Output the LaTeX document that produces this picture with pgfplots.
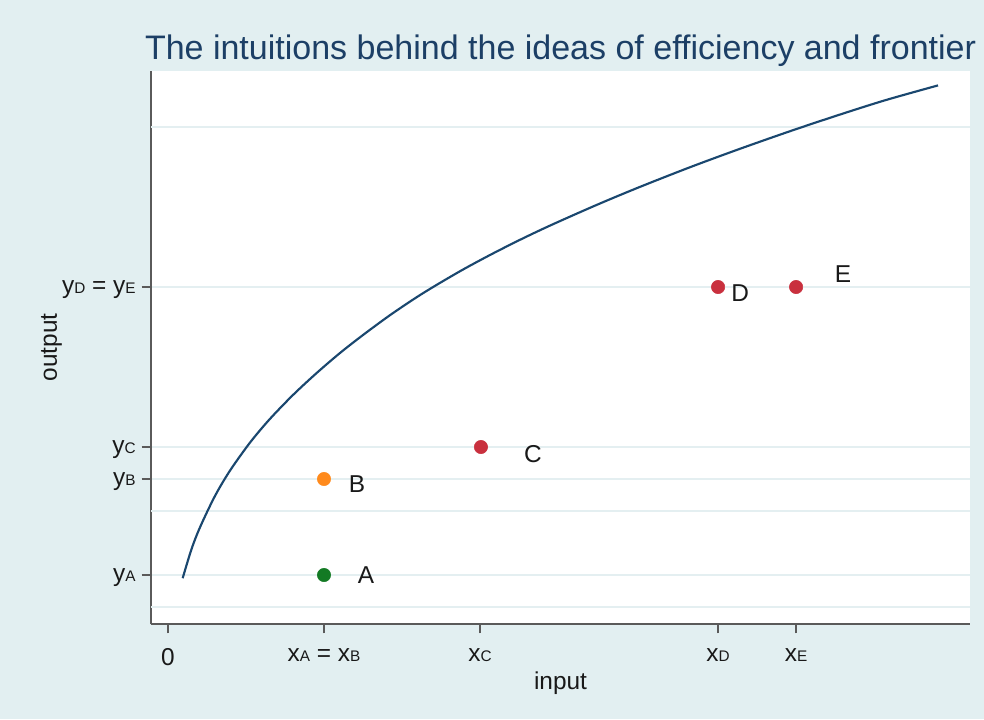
\documentclass[border=0pt]{standalone}
\usepackage{pgfplots}
\pgfplotsset{compat=1.18}
\usepackage{fontspec}
\setmainfont{Liberation Sans}
\definecolor{bg}{HTML}{E2EFF1}
\definecolor{stnavy}{HTML}{1A476F}
\definecolor{titlec}{HTML}{1C3F66}
\definecolor{axisgray}{HTML}{5A5A5A}
\definecolor{gridc}{HTML}{E4EFF1}
\definecolor{stgreen}{HTML}{137A24}
\definecolor{storange}{HTML}{FF8A1C}
\definecolor{stred}{HTML}{C9303E}
\newcommand{\lsub}[1]{{\fontsize{11.5pt}{12pt}\selectfont #1}}
\begin{document}
\begin{tikzpicture}[x=1pt,y=1pt]
\fill[bg] (0,0) rectangle (738,539.25);
\begin{axis}[
  at={(113.25pt,71.25pt)}, anchor=south west,
  scale only axis, width=614.25pt, height=414.75pt,
  xmin=-0.109, xmax=5.141, ymin=-0.531, ymax=16.75,
  axis x line*=bottom, axis y line*=left,
  axis line style={draw=axisgray, line width=1.1pt, -},
  axis background/.style={fill=white},
  xtick={0,1,2,3.526,4.026},
  xticklabels={0, x\lsub{A}\ =\ x\lsub{B}, x\lsub{C}, x\lsub{D}, x\lsub{E}},
  ytick={1,4,5,10},
  yticklabels={y\lsub{A}, y\lsub{B}, y\lsub{C}, y\lsub{D}\ =\ y\lsub{E}},
  tick align=outside, major tick length=7pt,
  major tick style={draw=axisgray, line width=1.2pt},
  ymajorgrids, xmajorgrids=false,
  grid style={draw=gridc, line width=1.1pt},
  extra y ticks={0,3,15}, extra y tick labels={},
  extra y tick style={major tick length=0pt, ymajorgrids},
  ticklabel style={font=\fontsize{18.3pt}{21pt}\selectfont, text=black!90},
  x tick label style={yshift=-8pt},
  y tick label style={xshift=-1pt, yshift=-2pt},
  xlabel={input}, ylabel={output},
  label style={font=\fontsize{18.3pt}{21pt}\selectfont, text=black!90},
  xlabel style={at={(axis description cs:0.5,-0.118)}, anchor=base},
  ylabel style={at={(axis description cs:-0.1215,0.5)}, anchor=center},
  clip=false,
]
\addplot[smooth, stnavy, line width=1.6pt] coordinates {
(0.094,0.90) (0.15,1.80) (0.205,2.49) (0.30,3.46) (0.397,4.26)
(0.526,5.14) (0.65,5.86) (0.80,6.62) (0.95,7.30) (1.103,7.94)
(1.25,8.50) (1.423,9.12) (1.60,9.70) (1.744,10.13) (1.90,10.57)
(2.064,11.00) (2.25,11.46) (2.449,11.92) (2.75,12.57) (3.026,13.13)
(3.35,13.75) (3.667,14.32) (4.00,14.89) (4.308,15.39) (4.60,15.84) (4.936,16.30)};
\addplot[only marks, mark=*, mark size=5pt, color=stgreen, mark options={draw=stgreen, fill=stgreen}] coordinates {(1,1)};
\addplot[only marks, mark=*, mark size=5pt, color=storange, mark options={draw=storange, fill=storange}] coordinates {(1,4)};
\addplot[only marks, mark=*, mark size=5pt, color=stred, mark options={draw=stred, fill=stred}] coordinates {(2.006,5) (3.526,10) (4.026,10)};
\node[font=\fontsize{18.3pt}{21pt}\selectfont, text=black!90] at (axis cs:1.269,1.0) {A};
\node[font=\fontsize{18.3pt}{21pt}\selectfont, text=black!90] at (axis cs:1.212,3.84) {B};
\node[font=\fontsize{18.3pt}{21pt}\selectfont, text=black!90] at (axis cs:2.340,4.78) {C};
\node[font=\fontsize{18.3pt}{21pt}\selectfont, text=black!90] at (axis cs:3.667,9.81) {D};
\node[font=\fontsize{18.3pt}{21pt}\selectfont, text=black!90] at (axis cs:4.327,10.41) {E};
\end{axis}
\node[anchor=base, text=titlec, font=\fontsize{25.5pt}{30pt}\selectfont] at (420.4,494.6) {The intuitions behind the ideas of efficiency and frontier};
\pgfresetboundingbox
\path (0,0) rectangle (738,539.25);
\end{tikzpicture}
\end{document}
